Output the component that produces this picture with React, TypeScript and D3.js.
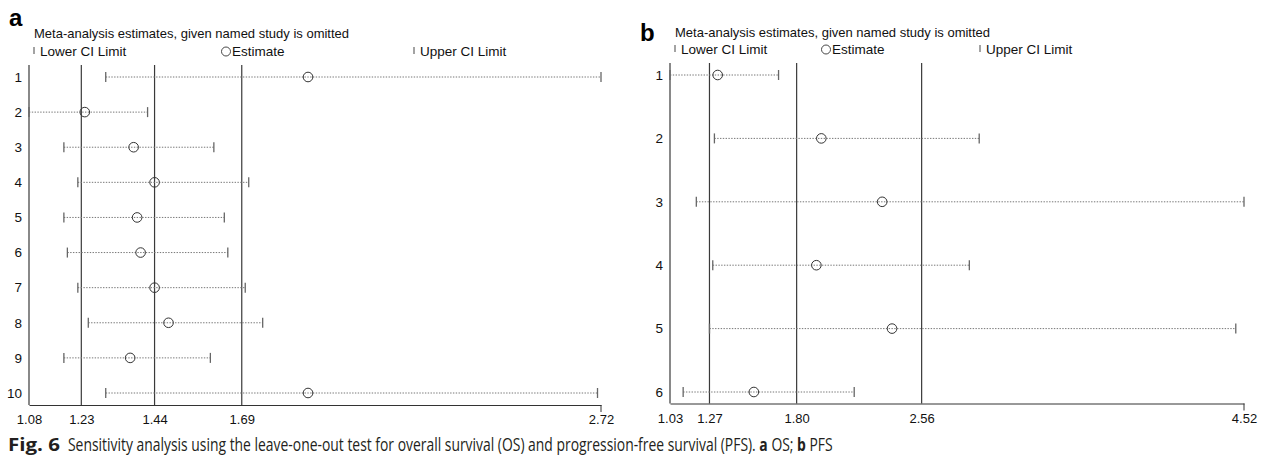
import React, { useEffect, useRef } from 'react';
import * as d3 from 'd3';

// panel a: overall survival (OS)
const studiesA = ['1', '2', '3', '4', '5', '6', '7', '8', '9', '10'];
const lowerA = [1.3, 1.08, 1.18, 1.22, 1.18, 1.19, 1.22, 1.25, 1.18, 1.3];
const estA = [1.88, 1.24, 1.38, 1.44, 1.39, 1.4, 1.44, 1.48, 1.37, 1.88];
const upperA = [2.72, 1.42, 1.61, 1.71, 1.64, 1.65, 1.7, 1.75, 1.6, 2.71];
const ticksA = [1.08, 1.23, 1.44, 1.69, 2.72];
const refA = [1.08, 1.23, 1.44, 1.69];

// panel b: progression-free survival (PFS)
const studiesB = ['1', '2', '3', '4', '5', '6'];
const lowerB = [1.03, 1.3, 1.19, 1.29, 1.27, 1.11];
const estB = [1.32, 1.95, 2.32, 1.92, 2.38, 1.54];
const upperB = [1.69, 2.91, 4.52, 2.85, 4.47, 2.15];
const ticksB = [1.03, 1.27, 1.8, 2.56, 4.52];
const refB = [1.03, 1.27, 1.8, 2.56];

const FONT = "'Liberation Sans', Arial, sans-serif";

type PanelProps = {
  letter: string;
  studies: string[];
  lower: number[];
  est: number[];
  upper: number[];
  ticks: number[];
  refs: number[];
  x0: number;
  x1: number;
  yTop: number;
  yBottom: number;
  axisY: number;
  refTop: number;
  letterX: number;
  letterY: number;
  titleX: number;
  titleY: number;
  legendY: number;
  estX: number;
  upperX: number;
};

const Panel = (p: PanelProps) => {
  const axisRef = useRef<SVGGElement>(null);
  const x = d3.scaleLinear().domain([p.ticks[0], p.ticks[p.ticks.length - 1]]).range([p.x0, p.x1]);
  const y = d3.scalePoint().domain(p.studies).range([p.yTop, p.yBottom]);

  useEffect(() => {
    const g = d3.select(axisRef.current);
    g.selectAll('*').remove();
    g.call(
      d3.axisBottom(x).tickValues(p.ticks).tickFormat(d3.format('.2f')).tickSize(0).tickSizeOuter(0).tickPadding(10)
    );
    g.select('.domain').attr('stroke', '#333').attr('stroke-width', 1);
    g.selectAll('text').attr('font-family', FONT).attr('font-size', 13).attr('fill', '#111');
    // end tick at the right of the axis
    g.append('line')
      .attr('x1', x(p.ticks[p.ticks.length - 1]))
      .attr('x2', x(p.ticks[p.ticks.length - 1]))
      .attr('y1', 0)
      .attr('y2', 7)
      .attr('stroke', '#333');
  }, []);

  return (
    <g>
      <text x={p.letterX} y={p.letterY} fontFamily={FONT} fontWeight="bold" fontSize={24} fill="#000">
        {p.letter}
      </text>
      <text x={p.titleX} y={p.titleY} fontFamily={FONT} fontSize={13} fill="#111">
        Meta-analysis estimates, given named study is omitted
      </text>
      {/* legend */}
      <g fontFamily={FONT} fontSize={13.5} fill="#111">
        <line x1={p.titleX} x2={p.titleX} y1={p.legendY - 9} y2={p.legendY - 2} stroke="#666" strokeWidth={1.2} />
        <text x={p.titleX + 6} y={p.legendY}>Lower CI Limit</text>
        <circle cx={p.estX} cy={p.legendY - 4.5} r={4.5} fill="none" stroke="#333" strokeWidth={0.9} />
        <text x={p.estX + 6} y={p.legendY}>Estimate</text>
        <line x1={p.upperX} x2={p.upperX} y1={p.legendY - 9} y2={p.legendY - 2} stroke="#666" strokeWidth={1.2} />
        <text x={p.upperX + 6} y={p.legendY}>Upper CI Limit</text>
      </g>
      {/* overall CI reference lines */}
      {p.refs.map((r) => (
        <line key={r} x1={x(r)} x2={x(r)} y1={p.refTop} y2={p.axisY} stroke="#3a3a3a" strokeWidth={1.2} />
      ))}
      {/* study rows */}
      {p.studies.map((s, i) => {
        const yy = y(s) as number;
        return (
          <g key={s}>
            <text x={p.x0 - 7} y={yy} dy="0.35em" textAnchor="end" fontFamily={FONT} fontSize={13.5} fill="#111">
              {s}
            </text>
            <line x1={x(p.lower[i])} x2={x(p.upper[i])} y1={yy} y2={yy} stroke="#777" strokeWidth={1} strokeDasharray="1.4,1.4" />
            <line x1={x(p.lower[i])} x2={x(p.lower[i])} y1={yy - 5} y2={yy + 5} stroke="#666" strokeWidth={1.3} />
            <line x1={x(p.upper[i])} x2={x(p.upper[i])} y1={yy - 5} y2={yy + 5} stroke="#666" strokeWidth={1.3} />
            <circle cx={x(p.est[i])} cy={yy} r={4.8} fill="none" stroke="#333" strokeWidth={1} />
          </g>
        );
      })}
      <g ref={axisRef} transform={`translate(0,${p.axisY})`} />
    </g>
  );
};

const Caption = () => {
  const gRef = useRef<SVGGElement>(null);
  const tRef = useRef<SVGTextElement>(null);
  useEffect(() => {
    // squeeze the sentence horizontally to the width it has in the figure
    const w = tRef.current ? tRef.current.getComputedTextLength() : 765;
    if (gRef.current && w > 0) {
      gRef.current.setAttribute('transform', `translate(68,451) scale(${765 / w},1)`);
    }
  }, []);
  return (
    <g fontFamily="'Open Sans', 'Noto Sans', sans-serif" fontSize={17.5} fill="#231f20">
      <text x={8} y={451} fontWeight="bold" textLength={52} lengthAdjust="spacingAndGlyphs">
        Fig. 6
      </text>
      <g ref={gRef} transform="translate(68,451)">
        <text ref={tRef} x={0} y={0}>
          Sensitivity analysis using the leave-one-out test for overall survival (OS) and progression-free survival (PFS).{' '}
          <tspan fontWeight="bold">a</tspan> OS; <tspan fontWeight="bold">b</tspan> PFS
        </text>
      </g>
    </g>
  );
};

const App = () => {
  return (
    <svg width={1270} height={457} style={{ position: 'absolute', left: 0, top: 0, background: '#fff' }}>
      <rect width={1270} height={457} fill="#fff" />
      <Panel
        letter="a"
        studies={studiesA}
        lower={lowerA}
        est={estA}
        upper={upperA}
        ticks={ticksA}
        refs={refA}
        x0={29}
        x1={601}
        yTop={77}
        yBottom={393}
        axisY={405}
        refTop={65}
        letterX={9}
        letterY={26}
        titleX={34}
        titleY={38}
        legendY={56}
        estX={226}
        upperX={414}
      />
      <Panel
        letter="b"
        studies={studiesB}
        lower={lowerB}
        est={estB}
        upper={upperB}
        ticks={ticksB}
        refs={refB}
        x0={670}
        x1={1244}
        yTop={75}
        yBottom={392}
        axisY={403.5}
        refTop={63}
        letterX={640}
        letterY={41}
        titleX={675}
        titleY={37}
        legendY={54}
        estX={826}
        upperX={980}
      />
      <Caption />
    </svg>
  );
};

export default App;
